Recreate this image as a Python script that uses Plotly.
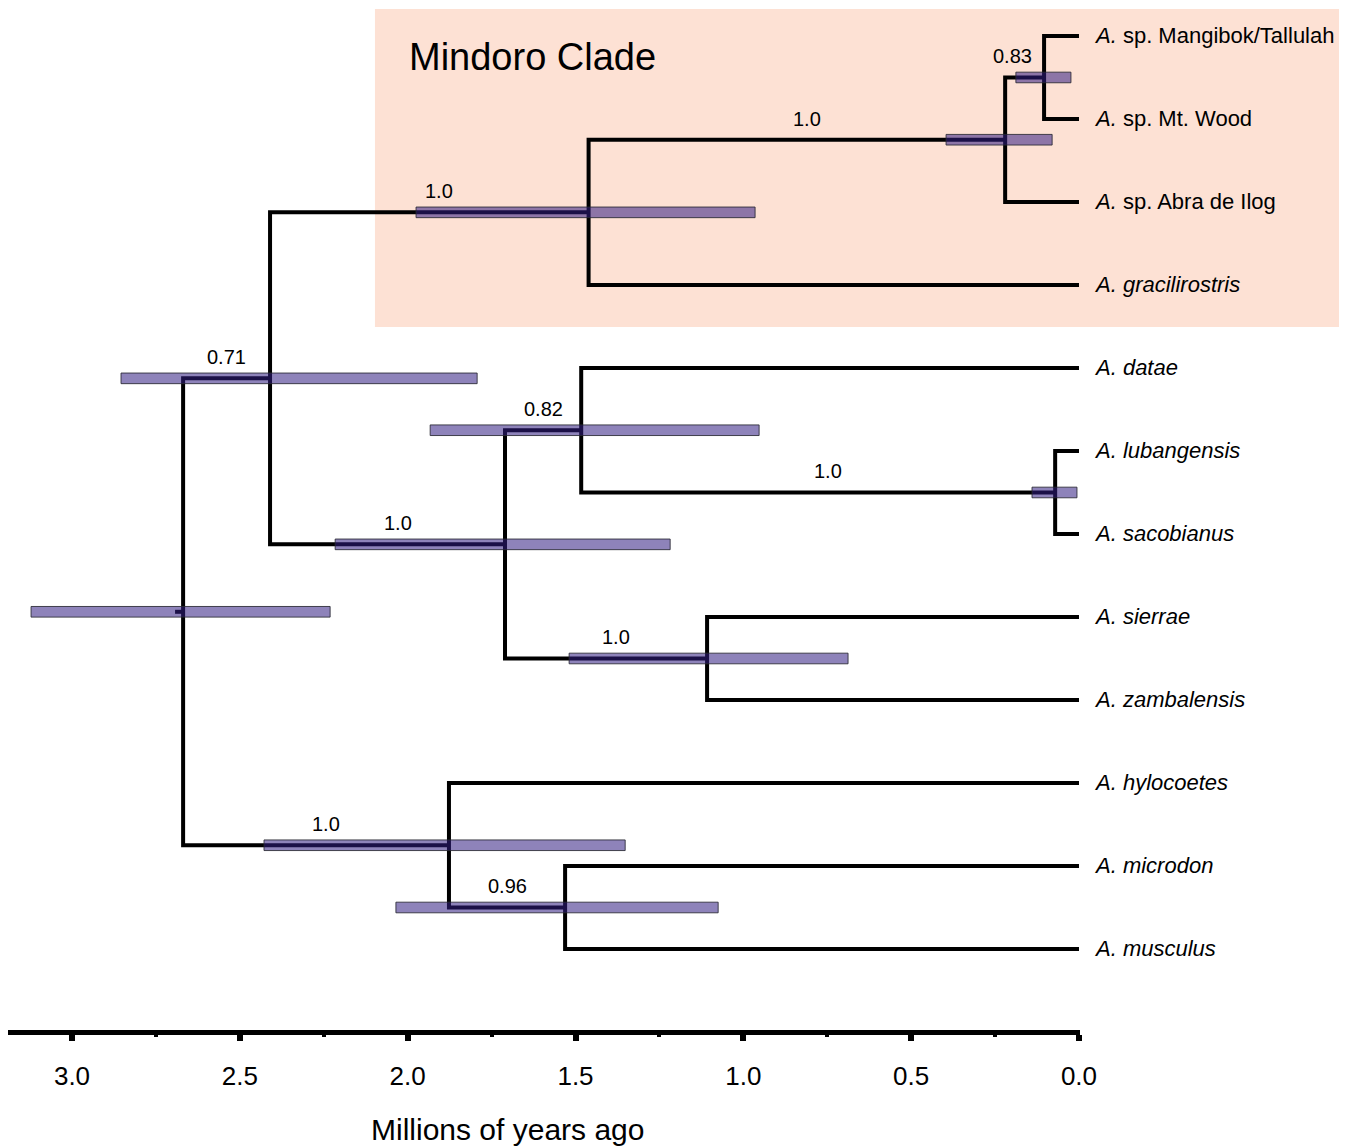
import plotly.graph_objects as go

# ---------------- data ----------------
tip_names = ["t_mangibok", "t_mtwood", "t_abra", "t_gracilirostris", "t_datae",
             "t_lubangensis", "t_sacobianus", "t_sierrae", "t_zambalensis",
             "t_hylocoetes", "t_microdon", "t_musculus"]
tip_labels = ["<i>A.</i> sp. Mangibok/Tallulah", "<i>A.</i> sp. Mt. Wood",
              "<i>A.</i> sp. Abra de Ilog", "<i>A. gracilirostris</i>",
              "<i>A. datae</i>", "<i>A. lubangensis</i>", "<i>A. sacobianus</i>",
              "<i>A. sierrae</i>", "<i>A. zambalensis</i>", "<i>A. hylocoetes</i>",
              "<i>A. microdon</i>", "<i>A. musculus</i>"]

node_names = ["MW", "W", "M", "D", "C", "E", "B", "A", "G", "F", "Root"]
node_children = [
    ["t_mangibok", "t_mtwood"],
    ["MW", "t_abra"],
    ["W", "t_gracilirostris"],
    ["t_lubangensis", "t_sacobianus"],
    ["t_datae", "D"],
    ["t_sierrae", "t_zambalensis"],
    ["C", "E"],
    ["M", "B"],
    ["t_microdon", "t_musculus"],
    ["t_hylocoetes", "G"],
    ["A", "F"],
]
node_ages = [0.104, 0.220, 1.461, 0.071, 1.483, 1.108, 1.710, 2.410, 1.531, 1.877, 2.669]
hpd_young = [0.024, 0.080, 0.965, 0.006, 0.953, 0.688, 1.218, 1.793, 1.075, 1.352, 2.231]
hpd_old = [0.188, 0.396, 1.975, 0.140, 1.933, 1.519, 2.216, 2.854, 2.035, 2.428, 3.122]
support = ["0.83", "1.0", "1.0", "1.0", "0.82", "1.0", "1.0", "0.71", "0.96", "1.0", ""]
root_stem = 0.024

x_ticks = [3.0, 2.5, 2.0, 1.5, 1.0, 0.5, 0.0]
x_tick_text = ["3.0", "2.5", "2.0", "1.5", "1.0", "0.5", "0.0"]

# ---------------- layout of tree ----------------
FONT = "Liberation Sans, Arial, sans-serif"
age = {t: 0.0 for t in tip_names}
ypos = {t: i for i, t in enumerate(tip_names)}
children = {}
for n, ch, a in zip(node_names, node_children, node_ages):
    age[n] = a
    children[n] = ch
parent = {c: n for n, ch in children.items() for c in ch}


def get_y(n):
    if n in ypos:
        return ypos[n]
    ys = [get_y(c) for c in children[n]]
    ypos[n] = (min(ys) + max(ys)) / 2.0
    return ypos[n]


for n in node_names:
    get_y(n)

lx, ly = [], []
for n in node_names:
    c1, c2 = children[n]
    lx += [age[c1], age[n], age[n], age[c2], None]
    ly += [ypos[c1], ypos[c1], ypos[c2], ypos[c2], None]
# root stem
lx += [age["Root"] + root_stem, age["Root"], None]
ly += [ypos["Root"], ypos["Root"], None]

fig = go.Figure()
fig.add_trace(go.Scatter(x=lx, y=ly, mode="lines",
                         line=dict(color="black", width=4),
                         hoverinfo="skip", showlegend=False))

h = 0.064
for n, lo, hi in zip(node_names, hpd_young, hpd_old):
    y = ypos[n]
    fig.add_trace(go.Scatter(
        x=[lo, hi, hi, lo, lo], y=[y - h, y - h, y + h, y + h, y - h],
        mode="lines", fill="toself", fillcolor="rgba(50,30,130,0.55)",
        line=dict(color="rgba(40,40,50,0.85)", width=1),
        hoverinfo="skip", showlegend=False))

annotations = []
for n, s in zip(node_names, support):
    if not s:
        continue
    p = parent[n]
    xm = (age[p] + age[n]) / 2.0
    shift = 10 if s == "1.0" else 0
    if n == "MW":
        shift = -12
    annotations.append(dict(x=xm, y=ypos[n], xref="x", yref="y", text=s,
                            showarrow=False, xanchor="center", yanchor="middle",
                            xshift=shift, yshift=21,
                            font=dict(family=FONT, size=20, color="black")))

for t, lab in zip(tip_names, tip_labels):
    annotations.append(dict(x=0.0, y=ypos[t], xref="x", yref="y", text=lab,
                            showarrow=False, xanchor="left", yanchor="middle",
                            xshift=13, font=dict(family=FONT, size=22, color="black")))

annotations.append(dict(x=0.372, y=0.952, xref="paper", yref="paper",
                        text="Mindoro Clade", showarrow=False, xanchor="left",
                        yanchor="middle", font=dict(family=FONT, size=38, color="black")))
annotations.append(dict(x=0.4655, y=-0.0978, xref="paper", yref="paper",
                        text="Millions of years ago", showarrow=False, xanchor="center",
                        yanchor="middle", font=dict(family=FONT, size=30, color="black")))

fig.update_layout(
    width=1344, height=1139,
    margin=dict(l=0, r=272, t=0, b=117),
    paper_bgcolor="white", plot_bgcolor="rgba(0,0,0,0)",
    showlegend=False,
    annotations=annotations,
    shapes=[dict(type="rect", xref="paper", yref="paper",
                 x0=0.3423, x1=1.2416, y0=0.6879, y1=0.999,
                 fillcolor="rgb(253,225,212)", line=dict(width=0), layer="below")],
)
fig.update_xaxes(range=[3.1907, -0.003], showgrid=False, zeroline=False,
                 showline=True, linecolor="black", linewidth=5,
                 tickmode="array", tickvals=x_ticks, ticktext=x_tick_text,
                 ticks="outside", ticklen=6, tickwidth=6, tickcolor="black",
                 ticklabelstandoff=13,
                 minor=dict(dtick=0.25, tick0=0, ticks="outside", ticklen=2,
                            tickwidth=4, tickcolor="black"),
                 tickfont=dict(family=FONT, size=26, color="black"))
fig.update_yaxes(range=[11.976, -0.337], visible=False, showgrid=False, zeroline=False)

fig.write_html("out.html")
